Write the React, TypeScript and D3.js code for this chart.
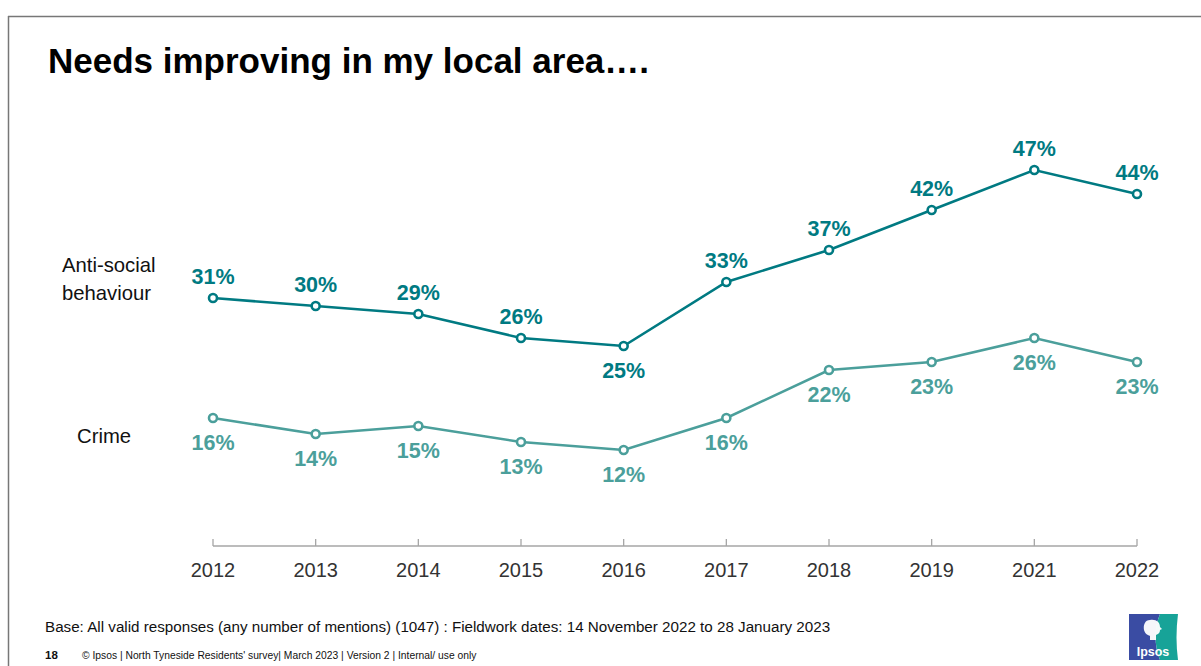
import React from "react";
import * as d3 from "d3";

const years = ["2012", "2013", "2014", "2015", "2016", "2017", "2018", "2019", "2021", "2022"];
const asbValues = [31, 30, 29, 26, 25, 33, 37, 42, 47, 44];
const crimeValues = [16, 14, 15, 13, 12, 16, 22, 23, 26, 23];
const asbLabelBelow = [false, false, false, false, true, false, false, false, false, false];
const seriesNames = ["Anti-social behaviour", "Crime"];

const W = 1201;
const H = 666;
const ASB_COLOR = "#007A82";
const CRIME_COLOR = "#4B9F9B";
const FONT = "Liberation Sans, Arial, sans-serif";

export default function App() {
  const x = d3.scalePoint<string>().domain(years).range([213, 1137]);
  const y = d3.scaleLinear().domain([0, 50]).range([546, 146]);
  const line = d3
    .line<number>()
    .x((_, i) => x(years[i]) as number)
    .y((d) => y(d));

  const renderSeries = (
    vals: number[],
    color: string,
    below: (i: number) => boolean
  ) => (
    <g>
      <path d={line(vals) || ""} fill="none" stroke={color} strokeWidth={2.6} />
      {vals.map((v, i) => (
        <circle
          key={"c" + i}
          cx={x(years[i])}
          cy={y(v)}
          r={4}
          fill="#fff"
          stroke={color}
          strokeWidth={2.6}
        />
      ))}
      {vals.map((v, i) => (
        <text
          key={"t" + i}
          x={x(years[i])}
          y={below(i) ? y(v) + 32 : y(v) - 14}
          textAnchor="middle"
          fontFamily={FONT}
          fontWeight="bold"
          fontSize={21.5}
          fill={color}
        >
          {v + "%"}
        </text>
      ))}
    </g>
  );

  return (
    <svg
      width={W}
      height={H}
      style={{ position: "fixed", left: 0, top: 0, background: "#fff" }}
    >
      <rect x={0} y={0} width={W} height={H} fill="#fff" />
      {/* slide frame */}
      <line x1={8.5} y1={16} x2={8.5} y2={H} stroke="#777" strokeWidth={1.5} />
      <line x1={8} y1={16.5} x2={W} y2={16.5} stroke="#777" strokeWidth={1.5} />

      <text x={48} y={72.5} fontFamily={FONT} fontWeight="bold" fontSize={35} fill="#000">
        Needs improving in my local area….
      </text>

      {/* series names */}
      <text x={62} y={272} fontFamily={FONT} fontSize={20.3} fill="#111">
        <tspan x={62}>Anti-social</tspan>
        <tspan x={62} dy={28}>behaviour</tspan>
      </text>
      <text x={77} y={443} fontFamily={FONT} fontSize={20.3} fill="#111">
        {seriesNames[1]}
      </text>

      {/* x axis */}
      <line x1={x(years[0])} x2={x(years[years.length - 1])} y1={546} y2={546} stroke="#a6a6a6" strokeWidth={1.3} />
      {years.map((yr) => (
        <g key={yr}>
          <line x1={x(yr)} x2={x(yr)} y1={539} y2={546} stroke="#a6a6a6" strokeWidth={1.3} />
          <text x={x(yr)} y={577} textAnchor="middle" fontFamily={FONT} fontSize={20} fill="#333">
            {yr}
          </text>
        </g>
      ))}

      {renderSeries(crimeValues, CRIME_COLOR, () => true)}
      {renderSeries(asbValues, ASB_COLOR, (i) => asbLabelBelow[i])}

      {/* footer */}
      <text x={45} y={632} fontFamily={FONT} fontSize={15.2} fill="#111">
        Base: All valid responses (any number of mentions) (1047) : Fieldwork dates: 14 November 2022 to 28 January 2023
      </text>
      <text x={45} y={659} fontFamily={FONT} fontSize={11.5} fontWeight="bold" fill="#111">
        18
      </text>
      <text x={82} y={659} fontFamily={FONT} fontSize={10.3} fill="#111">
        © Ipsos | North Tyneside Residents' survey| March 2023 | Version 2 | Internal/ use only
      </text>

      {/* Ipsos logo */}
      <g>
        <path d="M1129,614 L1160,614 C1154,628 1154,645 1160,660 L1129,660 Z" fill="#3A4CA3" />
        <path d="M1160,614 L1178,614 C1176,630 1176,645 1178,660 L1160,660 C1154,645 1154,628 1160,614 Z" fill="#17A398" />
        <path
          d="M1150,620 C1145,620 1143,625 1144,630 C1145,634 1148,635 1150,636 L1150,640 L1156,640 L1156,635 C1159,634 1160,632 1160,630 L1162,629 L1160,627 C1160,622 1156,619 1150,620 Z"
          fill="#fff"
          opacity={0.95}
        />
        <text x={1153} y={656} textAnchor="middle" fontFamily={FONT} fontWeight="bold" fontSize={12.5} fill="#fff">
          Ipsos
        </text>
      </g>
    </svg>
  );
}
